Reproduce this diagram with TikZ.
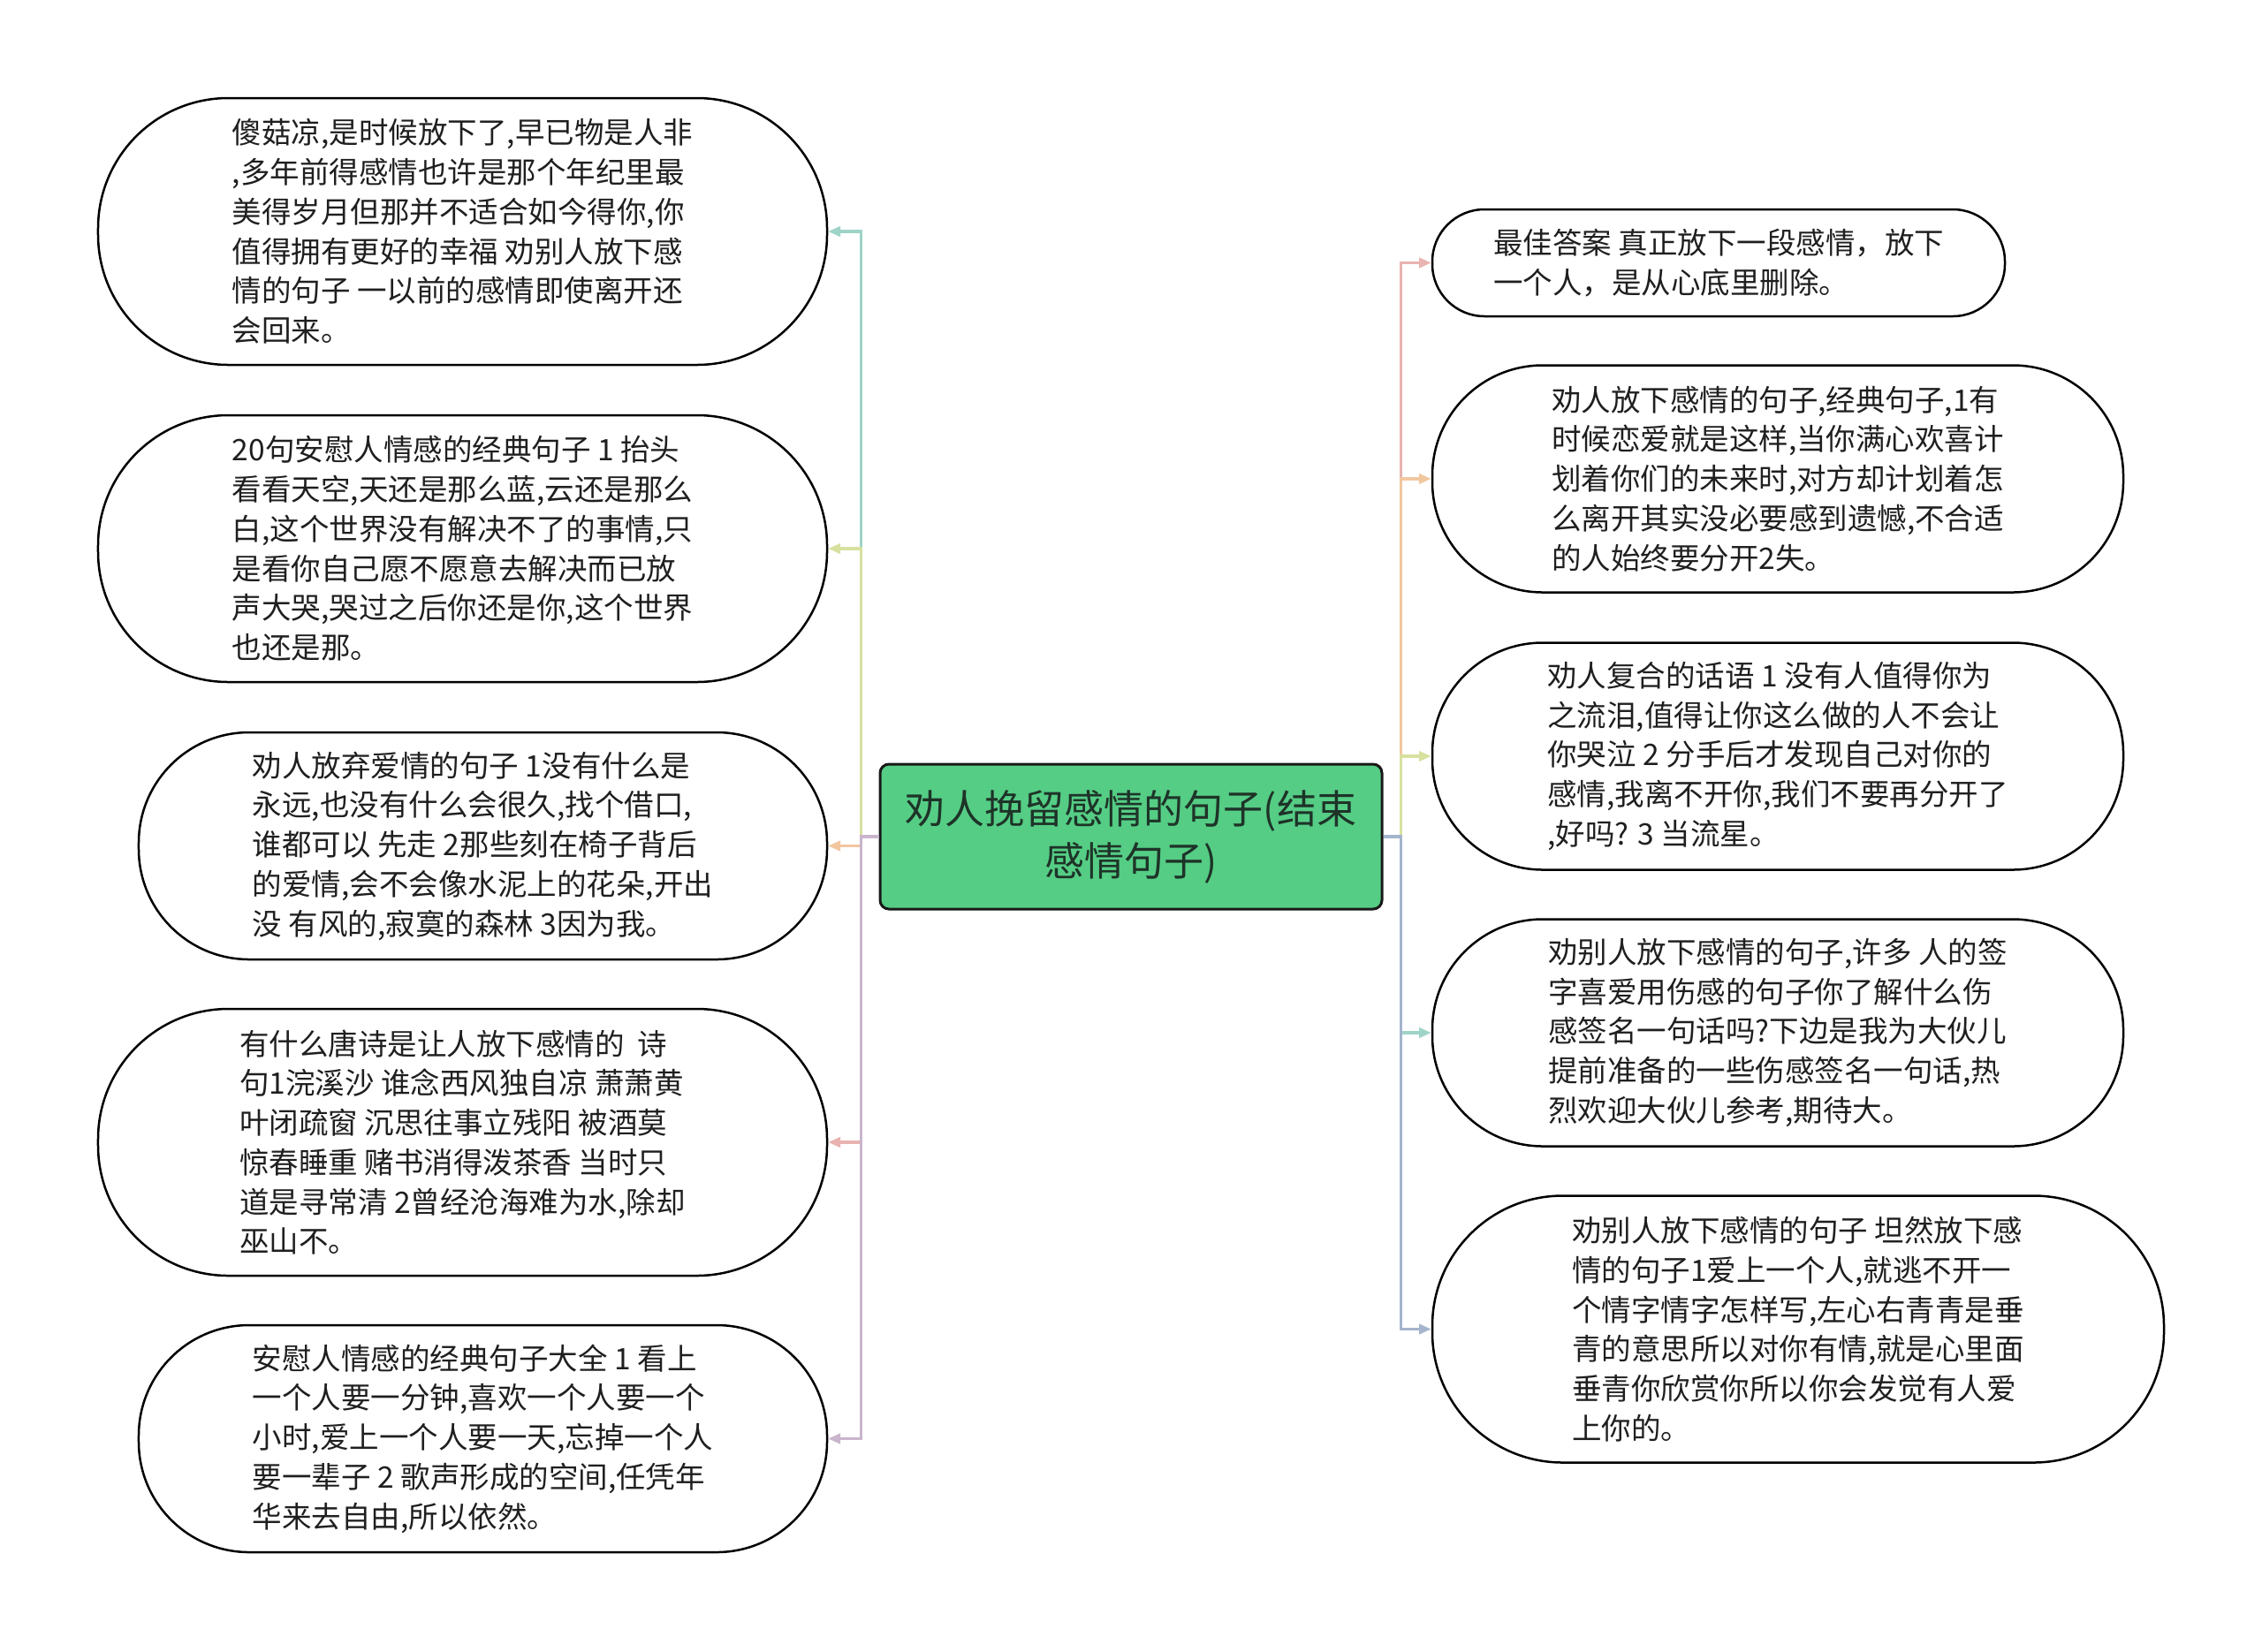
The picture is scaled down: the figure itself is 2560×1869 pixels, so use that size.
\documentclass[tikz,border=0pt]{standalone}
\usepackage{fontspec}
\setmainfont{Noto Sans CJK SC}
\usetikzlibrary{arrows.meta}
\definecolor{cteal}{HTML}{9ED3C8}
\definecolor{cyell}{HTML}{D8E0A0}
\definecolor{cpeach}{HTML}{F2C79F}
\definecolor{cpink}{HTML}{E8B3B0}
\definecolor{cmauve}{HTML}{CAB5CC}
\definecolor{cblue}{HTML}{A4B5CC}
\definecolor{rootfill}{HTML}{55CD85}
\definecolor{roottext}{HTML}{1E3328}
\tikzset{
  leaf/.style={draw=black, line width=1pt, fill=white, align=left, inner sep=0pt,
    font=\fontsize{13.4pt}{17.9pt}\selectfont, text=black!88},
  bigleaf/.style={leaf, minimum height=120.8pt, rounded corners=59pt},
  midleaf/.style={leaf, minimum height=102.8pt, rounded corners=50pt},
  smallleaf/.style={leaf, minimum height=48.4pt, rounded corners=23.6pt},
  root/.style={draw=black!90, line width=1.2pt, fill=rootfill, rounded corners=4pt,
    align=center, inner sep=0pt, minimum width=227.2pt, minimum height=65.6pt,
    font=\fontsize{18pt}{23.6pt}\selectfont, text=roottext},
  conn/.style={line width=1.3pt, -{Triangle[length=5.5pt,width=4.5pt]}}
}
\begin{document}
\begin{tikzpicture}[x=0.4pt,y=-0.4pt]
\useasboundingbox[fill=white] (0,0) rectangle (2560,1869);

\node[root] (C) at (1280,947) {劝人挽留感情的句子(结束\\感情句子)};

\node[bigleaf, minimum width=330pt] (L1) at (523.5,262) {傻菇凉,是时候放下了,早已物是人非\\,多年前得感情也许是那个年纪里最\\美得岁月但那并不适合如今得你,你\\值得拥有更好的幸福 劝别人放下感\\情的句子 一以前的感情即使离开还\\会回来。};
\node[bigleaf, minimum width=330pt] (L2) at (523.5,621) {20句安慰人情感的经典句子 1 抬头\\看看天空,天还是那么蓝,云还是那么\\白,这个世界没有解决不了的事情,只\\是看你自己愿不愿意去解决而已放\\声大哭,哭过之后你还是你,这个世界\\也还是那。};
\node[midleaf, minimum width=311.6pt] (L3) at (546.5,957.5) {劝人放弃爱情的句子 1没有什么是\\永远,也没有什么会很久,找个借口,\\谁都可以 先走 2那些刻在椅子背后\\的爱情,会不会像水泥上的花朵,开出\\没 有风的,寂寞的森林 3因为我。};
\node[bigleaf, minimum width=330pt] (L4) at (523.5,1293) {有什么唐诗是让人放下感情的\ \ 诗\\句1浣溪沙 谁念西风独自凉 萧萧黄\\叶闭疏窗 沉思往事立残阳 被酒莫\\惊春睡重 赌书消得泼茶香 当时只\\道是寻常清 2曾经沧海难为水,除却\\巫山不。};
\node[midleaf, minimum width=311.6pt] (L5) at (546.5,1628.5) {安慰人情感的经典句子大全 1 看上\\一个人要一分钟,喜欢一个人要一个\\小时,爱上一个人要一天,忘掉一个人\\要一辈子 2 歌声形成的空间,任凭年\\华来去自由,所以依然。};

\node[smallleaf, minimum width=259.2pt] (R1) at (1945,297.5) {最佳答案 真正放下一段感情，放下\\一个人，是从心底里删除。};
\node[midleaf, minimum width=312.8pt] (R2) at (2012,542) {劝人放下感情的句子,经典句子,1有\\时候恋爱就是这样,当你满心欢喜计\\划着你们的未来时,对方却计划着怎\\么离开其实没必要感到遗憾,不合适\\的人始终要分开2失。};
\node[midleaf, minimum width=312.8pt] (R3) at (2012,856) {劝人复合的话语 1 没有人值得你为\\之流泪,值得让你这么做的人不会让\\你哭泣 2 分手后才发现自己对你的\\感情,我离不开你,我们不要再分开了\\,好吗? 3 当流星。};
\node[midleaf, minimum width=312.8pt] (R4) at (2012,1169) {劝别人放下感情的句子,许多 人的签\\字喜爱用伤感的句子你了解什么伤\\感签名一句话吗?下边是我为大伙儿\\提前准备的一些伤感签名一句话,热\\烈欢迎大伙儿参考,期待大。};
\node[bigleaf, minimum width=331.2pt] (R5) at (2035,1504.5) {劝别人放下感情的句子 坦然放下感\\情的句子1爱上一个人,就逃不开一\\个情字情字怎样写,左心右青青是垂\\青的意思所以对你有情,就是心里面\\垂青你欣赏你所以你会发觉有人爱\\上你的。};

\draw[conn, cteal]  (C.west) -- ++(-20,0) |- (L1.east);
\draw[conn, cyell]  (C.west) -- ++(-20,0) |- (L2.east);
\draw[conn, cpeach] (C.west) -- ++(-20,0) |- (L3.east);
\draw[conn, cpink]  (C.west) -- ++(-20,0) |- (L4.east);
\draw[conn, cmauve] (C.west) -- ++(-20,0) |- (L5.east);

\draw[conn, cpink]  (C.east) -- ++(20,0) |- (R1.west);
\draw[conn, cpeach] (C.east) -- ++(20,0) |- (R2.west);
\draw[conn, cyell]  (C.east) -- ++(20,0) |- (R3.west);
\draw[conn, cteal]  (C.east) -- ++(20,0) |- (R4.west);
\draw[conn, cblue]  (C.east) -- ++(20,0) |- (R5.west);
\end{tikzpicture}
\end{document}
